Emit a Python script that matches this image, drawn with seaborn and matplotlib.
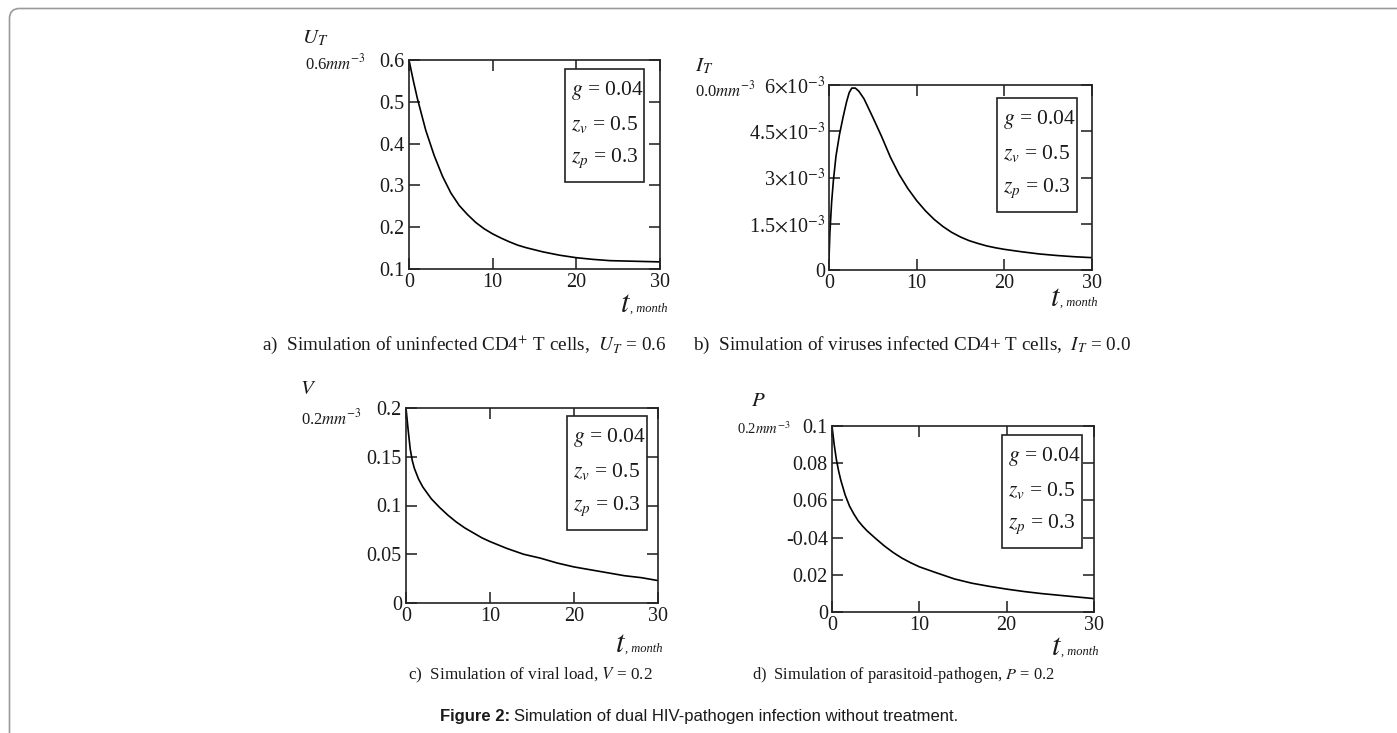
import numpy as np
import matplotlib
matplotlib.use("Agg")
import matplotlib.pyplot as plt
from matplotlib.patches import FancyBboxPatch, Rectangle
import seaborn as sns

# ---- data (t in months) ----
t_u = [0, 0.5, 1, 2, 3, 4, 5, 6, 7, 8, 9, 10, 11, 12, 13, 14, 16, 18, 20, 22, 24, 26, 28, 30]
u_t = [0.6, 0.552, 0.508, 0.432, 0.372, 0.322, 0.282, 0.252, 0.23, 0.211, 0.196, 0.184, 0.174,
       0.165, 0.157, 0.151, 0.141, 0.133, 0.127, 0.123, 0.12, 0.119, 0.118, 0.117]

t_i = [0, 0.1, 0.3, 0.5, 0.8, 1.2, 1.6, 2.0, 2.3, 2.6, 3.0, 3.4, 4, 5, 6, 7, 8, 9, 10, 11, 12, 13,
       14, 15, 16, 17, 18, 19, 20, 22, 24, 26, 28, 30]
i_t_e3 = [0.35, 1.2, 2.2, 2.9, 3.7, 4.4, 4.95, 5.45, 5.75, 5.9, 5.9, 5.8, 5.55, 4.95, 4.33, 3.66, 3.1,
          2.64, 2.25, 1.92, 1.64, 1.41, 1.22, 1.07, 0.95, 0.86, 0.78, 0.72, 0.67, 0.59, 0.52, 0.47,
          0.43, 0.40]  # x 1e-3

t_v = [0, 0.25, 0.5, 0.75, 1, 1.5, 2, 3, 4, 5, 6, 7, 8, 9, 10, 12, 14, 16, 18, 20, 22, 24, 26, 28, 30]
v_load = [0.2, 0.178, 0.158, 0.146, 0.138, 0.127, 0.119, 0.107, 0.098, 0.09, 0.083, 0.077, 0.072,
          0.067, 0.063, 0.056, 0.05, 0.046, 0.041, 0.037, 0.034, 0.031, 0.028, 0.026, 0.023]

t_p = [0, 0.25, 0.5, 0.75, 1, 1.5, 2, 2.5, 3, 3.5, 4, 5, 6, 7, 8, 9, 10, 12, 14, 16, 18, 20, 22, 24,
       26, 28, 30]
p_load = [0.1, 0.09, 0.082, 0.076, 0.071, 0.063, 0.057, 0.0527, 0.049, 0.0462, 0.0437, 0.0395, 0.0355,
          0.032, 0.029, 0.0265, 0.0243, 0.021, 0.0178, 0.0155, 0.0138, 0.0123, 0.011, 0.0099, 0.009,
          0.0081, 0.0072]

x_ticks = [0, 10, 20, 30]
u_ticks = [0.1, 0.2, 0.3, 0.4, 0.5, 0.6]
u_labels = ["0.1", "0.2", "0.3", "0.4", "0.5", "0.6"]
i_ticks = [0, 1.5e-3, 3e-3, 4.5e-3, 6e-3]
i_labels = ["0", r"1.5$\times$10$^{-3}$", r"3$\times$10$^{-3}$", r"4.5$\times$10$^{-3}$", r"6$\times$10$^{-3}$"]
v_ticks = [0, 0.05, 0.1, 0.15, 0.2]
v_labels = ["0", "0.05", "0.1", "0.15", "0.2"]
p_ticks = [0, 0.02, 0.04, 0.06, 0.08, 0.1]
p_labels = ["0", "0.02", "-0.04", "0.06", "0.08", "0.1"]

param_lines = [r"$g$ = 0.04", r"$z_{v}$ = 0.5", r"$z_{p}$ = 0.3"]

sns.set_style("ticks")
plt.rcParams["font.family"] = ["Liberation Serif", "DejaVu Serif"]
plt.rcParams["mathtext.fontset"] = "stix"
plt.rcParams["text.color"] = "#1a1a1a"

W, H = 1397, 733
fig = plt.figure(figsize=(W / 100, H / 100), dpi=100)


def px(x, y):
    return x / W, 1 - y / H


def make_axes(l, t, r, b):
    return fig.add_axes([l / W, 1 - b / H, (r - l) / W, (b - t) / H])


def style_axes(ax, yt, yl, ylim):
    ax.set_xlim(0, 30)
    ax.set_ylim(*ylim)
    ax.set_xticks(x_ticks)
    ax.set_xticklabels([str(v) for v in x_ticks])
    ax.set_yticks(yt)
    ax.set_yticklabels(yl)
    ax.tick_params(direction="in", top=True, right=True, length=8, width=1.1,
                   labelsize=14.5, pad=3, colors="#1a1a1a")
    for s in ax.spines.values():
        s.set_visible(True)
        s.set_linewidth(1.2)
        s.set_color("#222222")
    ax.set_xlabel("")
    ax.set_ylabel("")


def param_box(l, t, r, b):
    fig.patches.append(Rectangle((l / W, 1 - b / H), (r - l) / W, (b - t) / H,
                                 transform=fig.transFigure, fill=True, fc="white",
                                 ec="#222222", lw=1.2, zorder=5))
    step = (b - t) / 3.3
    for k, s in enumerate(param_lines):
        fig.text(*px(l + 6, t + step * (k + 0.62)), s, fontsize=15.5, va="center",
                 ha="left", zorder=6)


def t_label(x, y):
    fig.text(*px(x, y), r"$t$", fontsize=22, ha="left", va="baseline")
    fig.text(*px(x + 10, y), ", month", fontsize=9, style="italic", ha="left", va="baseline")


panels = [
    dict(box=(409, 60, 660, 269), x=t_u, y=u_t, yt=u_ticks, yl=u_labels, ylim=(0.1, 0.6),
         pb=(565, 69, 644, 182), tl=(620, 312),
         var=r"$U_{T}$", var_xy=(302, 38), unit=r"0.6$\mathit{mm}^{-3}$", unit_xy=(305, 63), usz=12),
    dict(box=(829, 85, 1092, 270), x=t_i, y=list(np.array(i_t_e3) * 1e-3), yt=i_ticks, yl=i_labels,
         ylim=(0, 6e-3), pb=(997, 98, 1077, 212), tl=(1050, 306),
         var=r"$I_{T}$", var_xy=(695, 66), unit=r"0.0$\mathit{mm}^{-3}$", unit_xy=(695, 90), usz=12),
    dict(box=(406, 408, 658, 603), x=t_v, y=v_load, yt=v_ticks, yl=v_labels, ylim=(0, 0.2),
         pb=(567, 416, 647, 530), tl=(615, 652),
         var=r"$V$", var_xy=(300, 389), unit=r"0.2$\mathit{mm}^{-3}$", unit_xy=(301, 418), usz=12),
    dict(box=(832, 426, 1094, 612), x=t_p, y=p_load, yt=p_ticks, yl=p_labels, ylim=(0, 0.1),
         pb=(1002, 435, 1082, 548), tl=(1051, 655),
         var=r"$P$", var_xy=(751, 402), unit=r"0.2$\mathit{mm}^{-3}$", unit_xy=(737, 429), usz=10.5),
]

for p in panels:
    ax = make_axes(*p["box"])
    sns.lineplot(x=p["x"], y=p["y"], ax=ax, color="black", lw=1.2)
    style_axes(ax, p["yt"], p["yl"], p["ylim"])
    param_box(*p["pb"])
    t_label(*p["tl"])
    fig.text(*px(*p["var_xy"]), p["var"], fontsize=15, ha="left", va="center")
    fig.text(*px(*p["unit_xy"]), p["unit"], fontsize=p["usz"], ha="left", va="center")

# sub-captions
fig.text(*px(262, 345), r"a)  Simulation of uninfected CD4$^{+}$ T cells,  $U_{T}$ = 0.6", fontsize=13.8, va="center")
fig.text(*px(693, 345), r"b)  Simulation of viruses infected CD4+ T cells,  $I_{T}$ = 0.0", fontsize=13.8, va="center")
fig.text(*px(408, 675), r"c)  Simulation of viral load, $V$ = 0.2", fontsize=12.3, va="center")
fig.text(*px(752, 675), r"d)  Simulation of parasitoid-pathogen, $P$ = 0.2", fontsize=11.8, va="center")

# figure caption
fig.text(*px(510, 717), "Figure 2:", fontsize=12, fontweight="bold", family="Liberation Sans",
         ha="right", va="center")
fig.text(*px(514, 717), "Simulation of dual HIV-pathogen infection without treatment.", fontsize=12,
         family="Liberation Sans", ha="left", va="center")

# rounded page frame (only top/left visible)
fig.patches.append(FancyBboxPatch((0.095, -1.0), 15, 7.335 + 1.0 - 0.09,
                                  boxstyle="round,pad=0,rounding_size=0.1",
                                  transform=fig.dpi_scale_trans, fill=False,
                                  ec="#9a9a9a", lw=1.2))

fig.savefig("out.png", dpi=100)
